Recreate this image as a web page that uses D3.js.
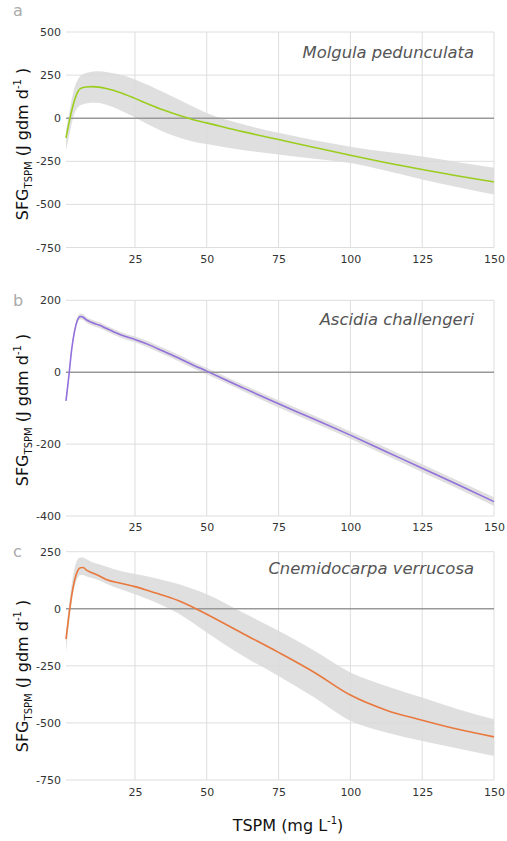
<!DOCTYPE html>
<html><head><meta charset="utf-8">
<script src="https://cdn.jsdelivr.net/npm/d3@7"></script>
<style>body{margin:0;background:#fff;} svg{display:block;}</style>
</head><body>
<script>
const tspm = [1,2,3,4,5,6,7,8,10,12.5,15,20,25,30,35,40,45,50,62.5,75,87.5,100,112.5,125,137.5,150];

const molgulaFit   = [-114,-30,45,105,150,172,178,181,183,180,172,148,115,80,47,18,-7,-27,-78,-124,-170,-215,-258,-298,-335,-370];
const molgulaUpper = [-70,20,110,180,220,245,255,262,270,272,268,252,225,190,150,110,70,30,-35,-85,-128,-165,-195,-222,-255,-288];
const molgulaLower = [-185,-110,-30,30,60,75,81,85,90,88,78,45,5,-40,-80,-110,-135,-150,-185,-210,-235,-260,-305,-355,-400,-443];

const ascidiaFit   = [-80,-10,65,115,145,155,153,146,138,131,122,104,91,76,58,40,21,3,-43,-88,-131,-175,-221,-267,-313,-360];
const ascidiaUpper = [-79,-4,72,123,153,163,161,154,146,139,130,112,99,85,67,49,30,12,-34,-78,-121,-165,-210,-256,-302,-348];
const ascidiaLower = [-81,-16,58,107,137,147,145,138,130,123,114,96,83,67,49,31,12,-6,-52,-98,-141,-185,-232,-278,-324,-372];

const cnemiFit   = [-133,-30,60,125,165,180,181,170,158,145,128,112,97,78,58,36,8,-24,-108,-191,-279,-378,-444,-488,-528,-561];
const cnemiUpper = [-105,10,110,180,215,225,225,218,205,195,185,165,152,140,125,108,88,64,-16,-96,-184,-279,-338,-389,-440,-484];
const cnemiLower = [-190,-70,30,95,135,148,148,142,135,125,110,85,64,40,12,-20,-60,-104,-206,-294,-389,-491,-542,-579,-612,-645];

const xTicks = [25,50,75,100,125,150];
const yTicksA = [500,250,0,-250,-500,-750];
const yTicksB = [200,0,-200,-400];
const yTicksC = [250,0,-250,-500,-750];

const panels = [
  {letter:"a", name:"Molgula pedunculata", fit:molgulaFit, up:molgulaUpper, lo:molgulaLower, ticks:yTicksA, domain:[-750,500], top:32, bottom:247.5, color:"#9acd1e", letterY:16, nameY:58, xlabY:264, titleY:144},
  {letter:"b", name:"Ascidia challengeri", fit:ascidiaFit, up:ascidiaUpper, lo:ascidiaLower, ticks:yTicksB, domain:[-400,200], top:300.3, bottom:516, color:"#9370db", letterY:306, nameY:325, xlabY:532, titleY:410},
  {letter:"c", name:"Cnemidocarpa verrucosa", fit:cnemiFit, up:cnemiUpper, lo:cnemiLower, ticks:yTicksC, domain:[-750,250], top:551.7, bottom:780, color:"#e8783c", letterY:557, nameY:574, xlabY:797, titleY:676}
];

const W = 507, H = 841;
const svg = d3.select("body").append("svg").attr("width", W).attr("height", H)
  .style("font-family", "'DejaVu Sans', sans-serif");

const x = d3.scaleLinear().domain([1,150]).range([66,494]);

panels.forEach(p => {
  const y = d3.scaleLinear().domain(p.domain).range([p.bottom, p.top]);
  const g = svg.append("g");

  g.selectAll(".hg").data(p.ticks.filter(t => t !== 0)).enter().append("line")
    .attr("x1", x(1)).attr("x2", x(150))
    .attr("y1", d => y(d)).attr("y2", d => y(d))
    .attr("stroke", "#dedede").attr("stroke-width", 1);
  g.selectAll(".vg").data(xTicks).enter().append("line")
    .attr("x1", d => x(d)).attr("x2", d => x(d))
    .attr("y1", p.top).attr("y2", p.bottom)
    .attr("stroke", "#dedede").attr("stroke-width", 1);

  const data = tspm.map((t, i) => ({t, f:p.fit[i], u:p.up[i], l:p.lo[i]}));

  const area = d3.area().x(d => x(d.t)).y0(d => y(d.l)).y1(d => y(d.u)).curve(d3.curveMonotoneX);
  g.append("path").datum(data).attr("d", area).attr("fill", "#d9d9d9").attr("fill-opacity", 0.85);

  g.append("line").attr("x1", x(1)).attr("x2", x(150)).attr("y1", y(0)).attr("y2", y(0))
    .attr("stroke", "#999").attr("stroke-width", 1.4);

  const line = d3.line().x(d => x(d.t)).y(d => y(d.f)).curve(d3.curveMonotoneX);
  g.append("path").datum(data).attr("d", line).attr("fill", "none")
    .attr("stroke", p.color).attr("stroke-width", 1.6);

  const yAxis = d3.axisLeft(y).tickValues(p.ticks).tickSize(0).tickPadding(0).tickFormat(d => String(d));
  const ya = g.append("g").attr("transform", "translate(61,0)").call(yAxis);
  ya.select(".domain").remove();
  ya.selectAll("text").attr("font-size", 11).attr("fill", "#333").attr("font-family", "'DejaVu Sans', sans-serif");

  const xAxis = d3.axisBottom(x).tickValues(xTicks).tickSize(0).tickPadding(0);
  const xa = g.append("g").attr("transform", `translate(0,${p.xlabY - 9})`).call(xAxis);
  xa.select(".domain").remove();
  xa.selectAll("text").attr("font-size", 11).attr("fill", "#333").attr("dy", "0.71em").attr("font-family", "'DejaVu Sans', sans-serif");

  g.append("text").attr("x", 13).attr("y", p.letterY).attr("font-size", 16).attr("fill", "#aaa").text(p.letter);

  g.append("text").attr("x", 474).attr("y", p.nameY).attr("text-anchor", "end")
    .attr("font-size", 16.4).attr("font-style", "italic").attr("fill", "#555").text(p.name);

  const t = g.append("text").attr("transform", `translate(28,${p.titleY}) rotate(-90)`)
    .attr("text-anchor", "middle").attr("font-size", 16).attr("fill", "#111");
  t.append("tspan").text("SFG");
  t.append("tspan").attr("font-size", 10).attr("dy", 4).text("TSPM");
  t.append("tspan").attr("dy", -4).text(" (J gdm d");
  t.append("tspan").attr("font-size", 10).attr("dy", -7).text("-1");
  t.append("tspan").attr("dy", 7).text(" )");
});

const xt = svg.append("text").attr("x", 288).attr("y", 831).attr("text-anchor", "middle")
  .attr("font-size", 16).attr("fill", "#111");
xt.append("tspan").text("TSPM (mg L");
xt.append("tspan").attr("font-size", 10).attr("dy", -7).text("-1");
xt.append("tspan").attr("dy", 7).text(")");
</script>
</body></html>
